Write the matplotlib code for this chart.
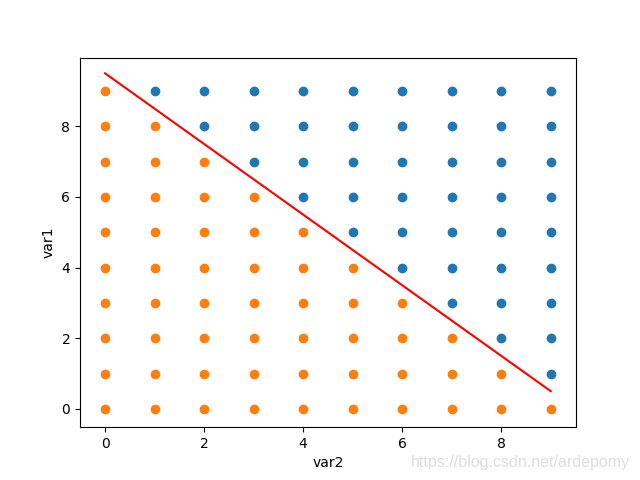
import matplotlib
matplotlib.use("Agg")
import matplotlib.pyplot as plt
import numpy as np

# Grid values
var2_values = [0, 1, 2, 3, 4, 5, 6, 7, 8, 9]
var1_values = [9, 8, 7, 6, 5, 4, 3, 2, 1, 0]
# Class per point: rows follow var1_values, columns follow var2_values (1 = blue, 0 = orange)
class_rows = [
    "0111111111",
    "0011111111",
    "0001111111",
    "0000111111",
    "0000011111",
    "0000001111",
    "0000000111",
    "0000000011",
    "0000000001",
    "0000000000",
]

# Decision boundary
line_x = [0, 9]
line_y = [9.5, 0.5]

xs, ys, cls = [], [], []
for v1, row in zip(var1_values, class_rows):
    for v2, c in zip(var2_values, row):
        xs.append(v2)
        ys.append(v1)
        cls.append(int(c))
xs = np.array(xs)
ys = np.array(ys)
cls = np.array(cls)

fig, ax = plt.subplots(figsize=(6.4, 4.8), dpi=100)
ax.scatter(xs[cls == 1], ys[cls == 1], color="C0")
ax.scatter(xs[cls == 0], ys[cls == 0], color="C1")
ax.plot(line_x, line_y, color="red")
ax.set_xlim(-0.505, 9.51)
ax.set_ylim(-0.52, 9.945)
ax.set_xlabel("var2")
ax.set_ylabel("var1")

fig.text(0.984, 0.036, "https://blog.csdn.net/ardepomy", ha="right", va="center",
         color="#dedede", fontsize=11.5, family="Liberation Sans")

fig.savefig("out.png")
